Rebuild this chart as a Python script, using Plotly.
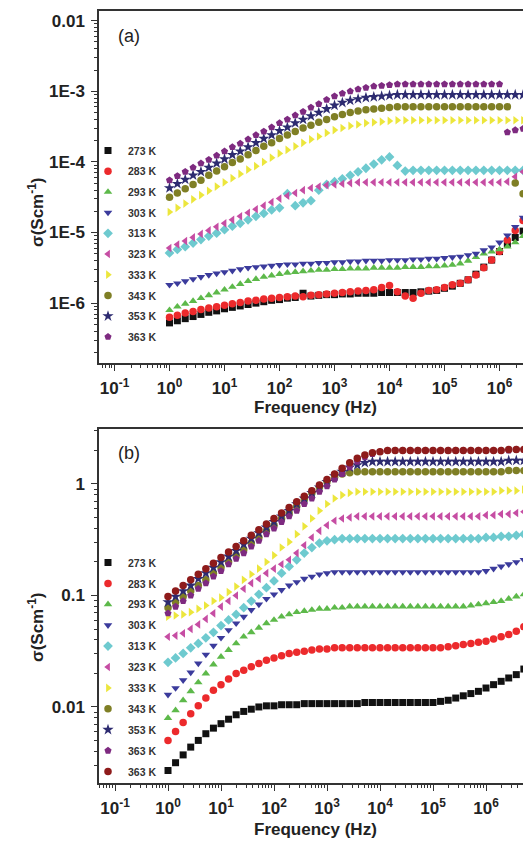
import plotly.graph_objects as go

# ---------------- data ----------------
freq_hz = [1, 1.389, 1.931, 2.683, 3.728, 5.179, 7.197,
           10, 13.89, 19.31, 26.83, 37.28, 51.79, 71.97,
           100, 138.9, 193.1, 268.3, 372.8, 517.9, 719.7,
           1e3, 1.389e3, 1.931e3, 2.683e3, 3.728e3, 5.179e3, 7.197e3,
           1e4, 1.389e4, 1.931e4, 2.683e4, 3.728e4, 5.179e4, 7.197e4,
           1e5, 1.389e5, 1.931e5, 2.683e5, 3.728e5, 5.179e5, 7.197e5,
           1e6, 1.389e6, 1.931e6, 2.683e6, 3.728e6, 5.179e6, 7.197e6,
           1e7]

labels_a = ["273 K", "283 K", "293 K", "303 K", "313 K", "323 K",
            "333 K", "343 K", "353 K", "363 K"]
labels_b = ["273 K", "283 K", "293 K", "303 K", "313 K", "323 K",
            "333 K", "343 K", "353 K", "363 K", "363 K"]

# panel (a): log10 of conductivity (S/cm)
a_273 = [-6.28, -6.25, -6.22, -6.19, -6.16, -6.13, -6.11, -6.08, -6.06, -6.04,
         -6.02, -6.00, -5.98, -5.96, -5.95, -5.93, -5.92, -5.86, -5.90, -5.89,
         -5.88, -5.88, -5.87, -5.87, -5.86, -5.86, -5.86, -5.85, -5.85, -5.85,
         -5.85, -5.85, -5.84, -5.83, -5.82, -5.79, -5.76, -5.72, -5.67, -5.59,
         -5.49, -5.39, -5.27, -5.16, -5.07, -4.98, -4.88, -4.78, -4.68, -4.58]
a_283 = [-6.20, -6.17, -6.14, -6.12, -6.09, -6.07, -6.05, -6.03, -6.01, -5.99,
         -5.97, -5.96, -5.94, -5.93, -5.92, -5.91, -5.90, -5.91, -5.89, -5.88,
         -5.87, -5.86, -5.85, -5.84, -5.83, -5.82, -5.81, -5.78, -5.75, -5.84,
         -5.90, -5.93, -5.86, -5.82, -5.81, -5.78, -5.74, -5.72, -5.67, -5.60,
         -5.50, -5.39, -5.27, -5.11, -4.97, -4.83, -4.72, -4.60, -4.48, -4.37]
a_293 = [-6.10, -6.05, -6.01, -5.97, -5.93, -5.89, -5.85, -5.81, -5.77, -5.73,
         -5.69, -5.66, -5.63, -5.61, -5.59, -5.57, -5.56, -5.55, -5.54, -5.53,
         -5.53, -5.52, -5.52, -5.51, -5.51, -5.51, -5.50, -5.50, -5.50, -5.50,
         -5.49, -5.49, -5.49, -5.48, -5.48, -5.47, -5.46, -5.44, -5.40, -5.35,
         -5.30, -5.27, -5.24, -5.20, -5.14, -5.05, -4.97, -4.88, -4.80, -4.72]
a_303 = [-5.74, -5.72, -5.69, -5.66, -5.63, -5.60, -5.58, -5.56, -5.54, -5.52,
         -5.50, -5.49, -5.48, -5.47, -5.46, -5.45, -5.45, -5.44, -5.44, -5.43,
         -5.43, -5.42, -5.42, -5.41, -5.41, -5.40, -5.40, -5.40, -5.39, -5.39,
         -5.39, -5.38, -5.38, -5.37, -5.37, -5.36, -5.35, -5.34, -5.32, -5.30,
         -5.25, -5.21, -5.14, -5.04, -4.92, -4.79, -4.65, -4.52, -4.40, -4.28]
a_313 = [-5.29, -5.24, -5.20, -5.15, -5.10, -5.05, -5.01, -4.96, -4.91, -4.87,
         -4.82, -4.77, -4.73, -4.68, -4.65, -4.45, -4.62, -4.58, -4.55, -4.40,
         -4.32, -4.28, -4.24, -4.19, -4.14, -4.09, -4.03, -3.97, -3.93, -4.05,
         -4.13, -4.12, -4.12, -4.12, -4.12, -4.12, -4.12, -4.12, -4.12, -4.12,
         -4.12, -4.12, -4.12, -4.12, -4.12, -4.12, -4.12, -4.12, -4.12, -4.12]
a_323 = [-5.22, -5.17, -5.12, -5.07, -5.02, -4.97, -4.92, -4.87, -4.82, -4.77,
         -4.72, -4.67, -4.62, -4.57, -4.52, -4.48, -4.44, -4.40, -4.37, -4.35,
         -4.33, -4.32, -4.31, -4.30, -4.29, -4.29, -4.29, -4.29, -4.29, -4.29,
         -4.29, -4.29, -4.29, -4.29, -4.29, -4.29, -4.29, -4.29, -4.29, -4.29,
         -4.29, -4.29, -4.29, -4.28, -4.21, -4.14, -4.09, -4.03, -3.98, -3.93]
a_333 = [-4.71, -4.65, -4.59, -4.53, -4.47, -4.41, -4.35, -4.29, -4.23, -4.17,
         -4.11, -4.06, -4.00, -3.94, -3.88, -3.83, -3.78, -3.73, -3.68, -3.64,
         -3.59, -3.55, -3.52, -3.49, -3.47, -3.45, -3.44, -3.43, -3.42, -3.41,
         -3.41, -3.41, -3.41, -3.41, -3.41, -3.41, -3.41, -3.41, -3.41, -3.41,
         -3.41, -3.41, -3.41, -3.41, -3.41, -3.41, -3.41, -3.41, -3.41, -3.41]
a_343 = [-4.50, -4.44, -4.38, -4.32, -4.26, -4.19, -4.13, -4.07, -4.01, -3.96,
         -3.90, -3.84, -3.78, -3.73, -3.67, -3.62, -3.57, -3.52, -3.48, -3.44,
         -3.40, -3.36, -3.33, -3.30, -3.28, -3.26, -3.25, -3.24, -3.23, -3.22,
         -3.22, -3.22, -3.22, -3.22, -3.22, -3.22, -3.22, -3.22, -3.22, -3.22,
         -3.22, -3.22, -3.22, -3.22, -4.30, -4.45, -4.58, -4.72, -4.85, -4.97]
a_353 = [-4.37, -4.31, -4.25, -4.19, -4.14, -4.08, -4.02, -3.96, -3.90, -3.85,
         -3.79, -3.73, -3.67, -3.62, -3.56, -3.51, -3.45, -3.40, -3.35, -3.30,
         -3.25, -3.20, -3.16, -3.13, -3.11, -3.09, -3.08, -3.07, -3.06, -3.05,
         -3.05, -3.05, -3.05, -3.05, -3.05, -3.05, -3.05, -3.05, -3.05, -3.05,
         -3.05, -3.05, -3.05, -3.05, -3.05, -3.05, -3.05, -3.05, -3.05, -3.05]
a_363 = [-4.26, -4.20, -4.14, -4.08, -4.02, -3.97, -3.91, -3.85, -3.79, -3.74,
         -3.68, -3.62, -3.57, -3.51, -3.45, -3.40, -3.34, -3.29, -3.23, -3.18,
         -3.12, -3.07, -3.03, -3.00, -2.97, -2.95, -2.93, -2.92, -2.91, -2.90,
         -2.90, -2.90, -2.90, -2.90, -2.90, -2.90, -2.90, -2.90, -2.90, -2.90,
         -2.90, -2.90, -2.90, -3.58, -3.55, -3.53, -3.50, -3.48, -3.46, -3.44]

# panel (b): log10 of conductivity (S/cm)
b_273 = [-2.57, -2.50, -2.43, -2.36, -2.30, -2.24, -2.19, -2.15, -2.11, -2.07,
         -2.04, -2.02, -2.00, -1.99, -1.99, -1.98, -1.98, -1.98, -1.97, -1.97,
         -1.97, -1.97, -1.97, -1.97, -1.97, -1.97, -1.96, -1.96, -1.96, -1.96,
         -1.96, -1.96, -1.96, -1.96, -1.96, -1.96, -1.95, -1.94, -1.92, -1.90,
         -1.88, -1.86, -1.83, -1.80, -1.77, -1.74, -1.71, -1.66, -1.60, -1.54]
b_283 = [-2.30, -2.22, -2.14, -2.06, -1.99, -1.92, -1.85, -1.80, -1.75, -1.70,
         -1.67, -1.64, -1.61, -1.58, -1.56, -1.54, -1.52, -1.51, -1.50, -1.49,
         -1.48, -1.48, -1.47, -1.47, -1.47, -1.47, -1.47, -1.47, -1.47, -1.47,
         -1.47, -1.47, -1.47, -1.47, -1.47, -1.47, -1.47, -1.46, -1.45, -1.44,
         -1.43, -1.42, -1.41, -1.39, -1.37, -1.35, -1.32, -1.28, -1.24, -1.20]
b_293 = [-2.10, -2.03, -1.94, -1.86, -1.78, -1.70, -1.62, -1.55, -1.49, -1.43,
         -1.37, -1.33, -1.29, -1.25, -1.22, -1.19, -1.17, -1.15, -1.14, -1.13,
         -1.12, -1.12, -1.11, -1.11, -1.10, -1.10, -1.10, -1.10, -1.10, -1.10,
         -1.10, -1.10, -1.10, -1.10, -1.10, -1.10, -1.10, -1.10, -1.10, -1.10,
         -1.09, -1.08, -1.07, -1.06, -1.05, -1.03, -1.01, -0.99, -0.96, -0.93]
b_303 = [-1.89, -1.83, -1.76, -1.69, -1.61, -1.53, -1.45, -1.38, -1.31, -1.25,
         -1.19, -1.13, -1.08, -1.03, -0.99, -0.95, -0.91, -0.88, -0.85, -0.83,
         -0.81, -0.80, -0.79, -0.79, -0.79, -0.79, -0.79, -0.79, -0.79, -0.79,
         -0.79, -0.79, -0.79, -0.79, -0.79, -0.79, -0.79, -0.79, -0.79, -0.79,
         -0.79, -0.79, -0.78, -0.76, -0.74, -0.72, -0.70, -0.68, -0.66, -0.64]
b_313 = [-1.60, -1.56, -1.52, -1.47, -1.43, -1.38, -1.33, -1.27, -1.22, -1.17,
         -1.11, -1.05, -0.99, -0.93, -0.87, -0.80, -0.74, -0.68, -0.62, -0.57,
         -0.53, -0.51, -0.50, -0.49, -0.49, -0.49, -0.49, -0.49, -0.49, -0.49,
         -0.49, -0.49, -0.49, -0.49, -0.49, -0.49, -0.49, -0.49, -0.49, -0.49,
         -0.49, -0.49, -0.48, -0.48, -0.47, -0.47, -0.46, -0.45, -0.44, -0.43]
b_323 = [-1.37, -1.36, -1.34, -1.30, -1.26, -1.21, -1.16, -1.10, -1.05, -1.00,
         -0.94, -0.89, -0.85, -0.80, -0.76, -0.72, -0.68, -0.62, -0.55, -0.48,
         -0.42, -0.37, -0.33, -0.31, -0.30, -0.29, -0.29, -0.29, -0.29, -0.29,
         -0.29, -0.29, -0.29, -0.29, -0.29, -0.29, -0.29, -0.29, -0.29, -0.29,
         -0.29, -0.29, -0.28, -0.28, -0.27, -0.27, -0.26, -0.25, -0.24, -0.23]
b_333 = [-1.19, -1.18, -1.17, -1.15, -1.12, -1.09, -1.05, -1.02, -0.97, -0.92,
         -0.86, -0.81, -0.76, -0.70, -0.64, -0.57, -0.52, -0.45, -0.38, -0.31,
         -0.24, -0.18, -0.13, -0.10, -0.08, -0.07, -0.07, -0.07, -0.07, -0.07,
         -0.07, -0.07, -0.07, -0.07, -0.07, -0.07, -0.07, -0.07, -0.07, -0.07,
         -0.07, -0.07, -0.07, -0.07, -0.06, -0.06, -0.06, -0.05, -0.05, -0.04]
b_343 = [-1.11, -1.06, -1.01, -0.96, -0.91, -0.86, -0.80, -0.75, -0.70, -0.64,
         -0.59, -0.53, -0.48, -0.42, -0.37, -0.31, -0.26, -0.20, -0.14, -0.08,
         -0.03, 0.02, 0.06, 0.09, 0.10, 0.11, 0.11, 0.11, 0.11, 0.11,
         0.11, 0.11, 0.11, 0.11, 0.11, 0.11, 0.11, 0.11, 0.11, 0.11,
         0.11, 0.11, 0.11, 0.11, 0.11, 0.12, 0.12, 0.12, 0.12, 0.13]
b_353 = [-1.06, -1.01, -0.96, -0.91, -0.85, -0.80, -0.75, -0.70, -0.65, -0.60,
         -0.54, -0.49, -0.44, -0.39, -0.34, -0.29, -0.24, -0.18, -0.13, -0.08,
         -0.03, 0.02, 0.07, 0.11, 0.15, 0.17, 0.19, 0.20, 0.20, 0.20,
         0.20, 0.20, 0.20, 0.20, 0.20, 0.20, 0.20, 0.20, 0.20, 0.20,
         0.20, 0.20, 0.20, 0.20, 0.20, 0.21, 0.21, 0.21, 0.21, 0.22]
b_363 = [-1.16, -1.10, -1.05, -1.00, -0.94, -0.89, -0.83, -0.78, -0.72, -0.67,
         -0.62, -0.56, -0.51, -0.45, -0.40, -0.34, -0.29, -0.24, -0.18, -0.13,
         -0.07, -0.02, 0.04, 0.09, 0.15, 0.20, 0.24, 0.27, 0.29, 0.30,
         0.30, 0.30, 0.30, 0.30, 0.30, 0.30, 0.30, 0.30, 0.30, 0.30,
         0.30, 0.30, 0.30, 0.30, 0.30, 0.30, 0.31, 0.31, 0.31, 0.31]
b_363_2 = [-1.01, -0.96, -0.91, -0.86, -0.81, -0.76, -0.71, -0.66, -0.61, -0.56,
           -0.51, -0.46, -0.41, -0.36, -0.31, -0.26, -0.21, -0.16, -0.11, -0.06,
           -0.01, 0.04, 0.09, 0.14, 0.19, 0.23, 0.26, 0.28, 0.29, 0.30,
           0.30, 0.30, 0.30, 0.30, 0.30, 0.30, 0.30, 0.30, 0.30, 0.30,
           0.30, 0.30, 0.30, 0.30, 0.30, 0.31, 0.31, 0.31, 0.32, 0.32]

x_tick_vals = [0.1, 1, 10, 100, 1e3, 1e4, 1e5, 1e6, 1e7]
x_tick_text = ["10<sup>-1</sup>", "10<sup>0</sup>", "10<sup>1</sup>", "10<sup>2</sup>",
               "10<sup>3</sup>", "10<sup>4</sup>", "10<sup>5</sup>", "10<sup>6</sup>",
               "10<sup>7</sup>"]
ya_tick_vals = [1e-6, 1e-5, 1e-4, 1e-3, 1e-2]
ya_tick_text = ["1E-6", "1E-5", "1E-4", "1E-3", "0.01"]
yb_tick_vals = [0.01, 0.1, 1]
yb_tick_text = ["0.01", "0.1", "1"]

# ---------------- styles ----------------
styles = [("square", "#111111", 7), ("circle", "#EC2A2C", 7.5), ("triangle-up", "#5DB94A", 7.5),
          ("triangle-down", "#3B3B9C", 7.5), ("diamond", "#6ECACF", 7.5), ("triangle-left", "#C64DA3", 7.5),
          ("triangle-right", "#ECE63C", 7.5), ("circle", "#7F7F25", 7.5), ("star", "#2D2B70", 8.5),
          ("pentagon", "#7E2A80", 7.5), ("circle", "#8E1B1B", 7.5)]

W, H = 531, 842
OFF = 8  # page body margin: screen px = figure px + 8
FONT = "Liberation Sans, Arial, sans-serif"


def fx(px):
    return (px - OFF) / W


def fy(py):
    return 1 - (py - OFF) / H


fig = go.Figure()

series_a = [a_273, a_283, a_293, a_303, a_313, a_323, a_333, a_343, a_353, a_363]
series_b = [b_273, b_283, b_293, b_303, b_313, b_323, b_333, b_343, b_353, b_363, b_363_2]

for i, (name, vals) in enumerate(zip(labels_a, series_a)):
    sym, col, sz = styles[i]
    fig.add_trace(go.Scatter(
        x=freq_hz, y=[10 ** v for v in vals], mode="markers", name=name,
        marker=dict(symbol=sym, color=col, size=sz, line=dict(width=0)),
        xaxis="x", yaxis="y", legend="legend", legendgroup="a%d" % i))

for i, (name, vals) in enumerate(zip(labels_b, series_b)):
    sym, col, sz = styles[i]
    fig.add_trace(go.Scatter(
        x=freq_hz, y=[10 ** v for v in vals], mode="markers", name=name,
        marker=dict(symbol=sym, color=col, size=sz, line=dict(width=0)),
        xaxis="x2", yaxis="y2", legend="legend2", legendgroup="b%d" % i))

minor_x = [m * 10 ** d for d in range(-2, 8) for m in range(2, 10)]
minor_ya = [m * 10 ** d for d in range(-8, -1) for m in range(2, 10)]
minor_yb = [m * 10 ** d for d in range(-4, 1) for m in range(2, 10)]

axis_common = dict(showline=True, linecolor="#333333", linewidth=1.5, showgrid=False,
                   zeroline=False, ticks="outside", ticklen=6, tickwidth=1.2,
                   tickcolor="#333333", tickmode="array",
                   tickfont=dict(family=FONT, size=17, color="#222222", weight="bold"))

xa = dict(axis_common, type="log", tickvals=x_tick_vals, ticktext=x_tick_text,
          mirror=True, ticklabelstandoff=3,
          minor=dict(tickmode="array", tickvals=minor_x, ticks="outside", ticklen=3,
                     tickwidth=1, tickcolor="#333333", showgrid=False))
ya_min = dict(ticks="outside", ticklen=3, tickwidth=1, tickcolor="#333333", showgrid=False,
              tickmode="array")

fig.update_layout(
    width=W, height=H, margin=dict(l=0, r=0, t=0, b=0),
    paper_bgcolor="white", plot_bgcolor="white",
    xaxis=dict(xa, domain=[fx(99), 1], anchor="y", range=[-1.282, 6.718]),
    yaxis=dict(axis_common, type="log", domain=[fy(363), fy(11)], anchor="x",
               range=[-6.848, -1.863], tickvals=ya_tick_vals, ticktext=ya_tick_text,
               mirror=False, ticklabelstandoff=3,
               minor=dict(ya_min, tickvals=minor_ya)),
    xaxis2=dict(xa, domain=[fx(99), 1], anchor="y2", range=[-1.302, 7.0]),
    yaxis2=dict(axis_common, type="log", domain=[fy(783), fy(429)], anchor="x2",
                range=[-2.682, 0.493], tickvals=yb_tick_vals, ticktext=yb_tick_text,
                mirror=False, ticklabelstandoff=3,
                minor=dict(ya_min, tickvals=minor_yb)),
    legend=dict(x=fx(88), y=fy(136), xanchor="left", yanchor="top",
                bgcolor="rgba(0,0,0,0)", traceorder="grouped", tracegroupgap=1.7,
                font=dict(family=FONT, size=10.5, color="#333333", weight="bold")),
    legend2=dict(x=fx(88), y=fy(548), xanchor="left", yanchor="top",
                 bgcolor="rgba(0,0,0,0)", traceorder="grouped", tracegroupgap=1.9,
                 font=dict(family=FONT, size=10.5, color="#333333", weight="bold")),
    showlegend=True,
)

ann_font = dict(family=FONT, size=17, color="#222222", weight="bold")
annotations = [
    dict(text="(a)", x=fx(116), y=fy(36), xanchor="left", yanchor="middle",
         font=dict(family=FONT, size=18, color="#222222")),
    dict(text="(b)", x=fx(116), y=fy(453), xanchor="left", yanchor="middle",
         font=dict(family=FONT, size=18, color="#222222")),
    dict(text="Frequency (Hz)", x=fx(315), y=fy(407), xanchor="center", yanchor="middle",
         font=ann_font),
    dict(text="Frequency (Hz)", x=fx(315), y=fy(829), xanchor="center", yanchor="middle",
         font=ann_font),
    dict(text="σ(Scm<sup>-1</sup>)", x=fx(36), y=fy(213), xanchor="center", yanchor="middle",
         textangle=-90, font=ann_font),
    dict(text="σ(Scm<sup>-1</sup>)", x=fx(36), y=fy(628), xanchor="center", yanchor="middle",
         textangle=-90, font=ann_font),
]
for a in annotations:
    a.update(xref="paper", yref="paper", showarrow=False)
fig.update_layout(annotations=annotations)

fig.write_html("out.html")
